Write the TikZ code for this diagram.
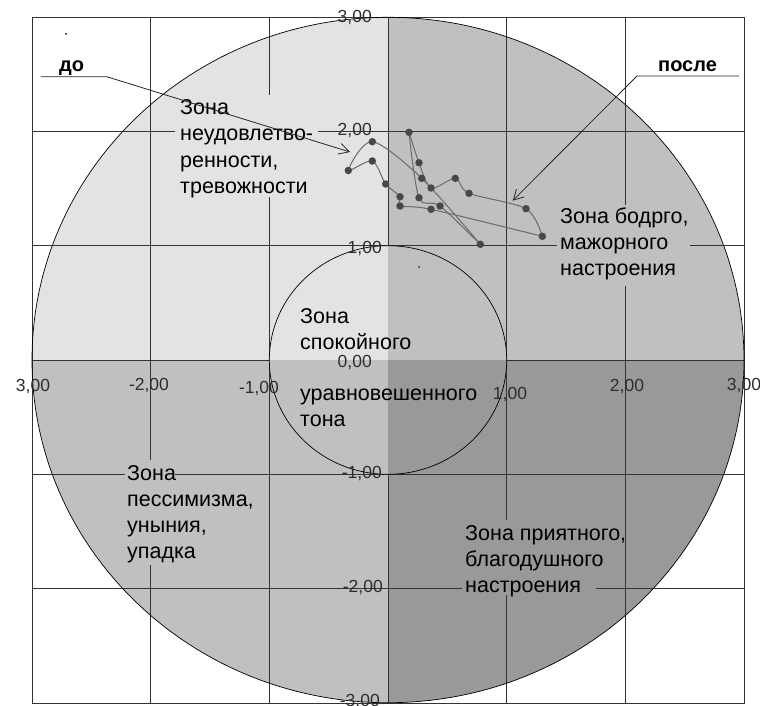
\documentclass[tikz,border=0pt]{standalone}
\usepackage{fontspec}
\setmainfont{Liberation Sans}
\usetikzlibrary{arrows.meta}
\definecolor{qUL}{HTML}{E3E3E3}
\definecolor{qUR}{HTML}{C0C0C0}
\definecolor{qLL}{HTML}{C0C0C0}
\definecolor{qLR}{HTML}{999999}
\definecolor{gridc}{HTML}{333333}
\definecolor{tracec}{HTML}{6A6A6A}
\definecolor{dotc}{HTML}{484848}
\definecolor{labc}{HTML}{2E2E2E}
\tikzset{
  gridline/.style={draw=gridc, line width=0.8pt},
  ringline/.style={draw=black, line width=0.7pt},
  trace/.style={draw=tracec, line width=1pt},
  dot/.style={circle, fill=dotc, inner sep=0pt, minimum size=7.5pt},
  axlab/.style={font=\fontsize{17.5}{20}\selectfont, text=labc, inner sep=0pt},
  zonelab/.style={anchor=base west, inner sep=0pt, text=black},
  leader/.style={draw=black!85, line width=0.8pt},
  tagtext/.style={font=\fontsize{20}{22}\selectfont\bfseries, anchor=base west, inner sep=0pt},
}
\newcommand{\zonetext}[1]{\parbox[t]{220pt}{\raggedright\fontsize{21.5}{26}\selectfont #1}}
\begin{document}
\begin{tikzpicture}[x=1pt,y=-1pt]
\useasboundingbox (0,0) rectangle (760,706);
\fill[white] (0,0) rectangle (760,706);

% quadrant fills of the big ring
\begin{scope}
  \clip (388,360) ellipse [x radius=356pt, y radius=342.7pt];
  \fill[qUL] (32,17) rectangle (388,360);
  \fill[qUR] (388,17) rectangle (744,360);
  \fill[qLL] (32,360) rectangle (388,703);
  \fill[qLR] (388,360) rectangle (744,703);
\end{scope}

% grid
\foreach \gx in {150.67,269.33,388,506.67,625.33}
  \draw[gridline] (\gx,17) -- (\gx,703);
\foreach \gy in {131.3,245.7,360,474.3,588.7}
  \draw[gridline] (32,\gy) -- (744,\gy);
\draw[gridline] (32,17) rectangle (744,703);

% small ring covers the grid
\begin{scope}
  \clip (388,360) ellipse [x radius=118.7pt, y radius=114.3pt];
  \fill[qUL] (260,240) rectangle (388,360);
  \fill[qUR] (388,240) rectangle (520,360);
  \fill[qLL] (260,360) rectangle (388,480);
  \fill[qLR] (388,360) rectangle (520,480);
\end{scope}
\draw[ringline] (388,360) ellipse [x radius=118.7pt, y radius=114.3pt];
\draw[ringline] (388,360) ellipse [x radius=356pt, y radius=342.7pt];

% label backgrounds hiding the grid
\fill[qUL] (175,95) rectangle (318,197);
\fill[qUR] (557,205) rectangle (690,286);
\fill[qLL] (125,460) rectangle (175,565);
\fill[qLR] (462,520) rectangle (596,595);

% axis labels
\node[axlab, anchor=east] (ly3) at (372,17.5) {3,00};
\node[axlab, anchor=east] (ly2) at (372,131) {2,00};
\node[axlab, anchor=east] (ly1) at (382,248.5) {1,00};
\node[axlab, anchor=east] (ly0) at (372,362.5) {0,00};
\node[axlab, anchor=east] (lym1) at (382,474) {-1,00};
\node[axlab, anchor=east] (lym2) at (383,588) {-2,00};
\node[axlab, anchor=east] (lym3) at (380,702) {-3,00};
\node[axlab] (lxm3) at (33,386.5) {3,00};
\node[axlab] (lxm2) at (149,386) {-2,00};
\node[axlab] (lxm1) at (259,389) {-1,00};
\node[axlab] (lx1) at (510,395) {1,00};
\node[axlab] (lx2) at (627,386.5) {2,00};
\node[axlab] (lx3) at (744,386) {3,00};

% zone labels
\node[zonelab] (zUL) at (180,115) {\zonetext{Зона\\неудовлетво-\\ренности,\\тревожности}};
\node[zonelab] (zUR) at (560,223) {\zonetext{Зона бодрго,\\мажорного\\настроения}};
\node[zonelab] (zC) at (300,323) {\zonetext{Зона\\спокойного\\[25.5pt]уравновешенного\\тона}};
\node[zonelab] (zLL) at (127,480) {\zonetext{Зона\\пессимизма,\\уныния,\\упадка}};
\node[zonelab] (zLR) at (465,540) {\zonetext{Зона приятного,\\благодушного\\настроения}};

% trajectory points
\coordinate (p1) at (348.3,170.5);
\coordinate (p2) at (372.3,161);
\coordinate (p3) at (372.3,141.7);
\coordinate (p4) at (385.7,184);
\coordinate (p5) at (400,196.7);
\coordinate (p6) at (400,206);
\coordinate (p7) at (409,132.3);
\coordinate (p8) at (419,162.7);
\coordinate (p9) at (421.7,178.3);
\coordinate (p10) at (431,188);
\coordinate (p11) at (419,197.7);
\coordinate (p12) at (431,209.3);
\coordinate (p13) at (440,206);
\coordinate (p14) at (455.3,178.3);
\coordinate (p15) at (469,193.3);
\coordinate (p16) at (526,208.7);
\coordinate (p17) at (542.3,236.3);
\coordinate (p18) at (480.3,244.3);

\draw[trace] plot[smooth, tension=0.5] coordinates {(p18) (p9) (p3) (p1) (p2) (p4) (p5) (p6) (p12) (p17)};
\draw[trace] plot[smooth, tension=0.5] coordinates {(p17) (p16) (p15) (p14) (p10) (p8) (p7)};
\draw[trace] plot[smooth, tension=0.5] coordinates {(p7) (p11) (p13) (p18)};

\foreach \i in {1,...,18}
  \node[dot] (d\i) at (p\i) {};

% stray specks
\fill[black] (66,34) circle (1pt);
\fill[black!80] (419,267) circle (1pt);

% leaders
\coordinate (doEnd) at (40.7,76.7);
\coordinate (doKnee) at (106.7,76.7);
\coordinate (doTip) at (350,152);
\draw[leader, -{Straight Barb[length=10pt,width=11pt]}] (doEnd) -- (doKnee) -- (doTip);
\node[tagtext] (tdo) at (59,72) {до};

\coordinate (posleEnd) at (739,76);
\coordinate (posleKnee) at (637,76);
\coordinate (posleTip) at (512.7,200.7);
\draw[leader, -{Straight Barb[length=10pt,width=11pt]}] (posleEnd) -- (posleKnee) -- (posleTip);
\node[tagtext] (tposle) at (658,72) {после};
\end{tikzpicture}
\end{document}
